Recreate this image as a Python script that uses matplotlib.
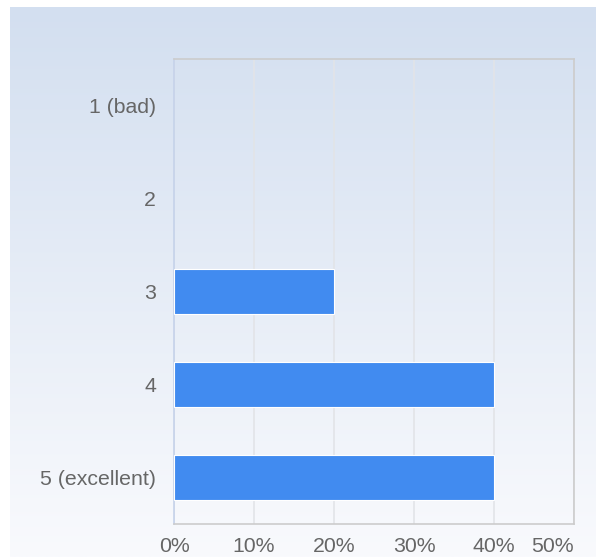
import numpy as np
import matplotlib
matplotlib.use("Agg")
import matplotlib.pyplot as plt
from matplotlib.colors import LinearSegmentedColormap

categories = ["1 (bad)", "2", "3", "4", "5 (excellent)"]
values = [0, 0, 20, 40, 40]
xticks = [0, 10, 20, 30, 40, 50]
xtick_labels = ["0%", "10%", "20%", "30%", "40%", "50%"]

W, H = 596, 557
fig = plt.figure(figsize=(W / 100, H / 100), dpi=100)
fig.patch.set_facecolor("white")

# gradient background
bg = fig.add_axes([10 / W, 0, 1 - 10 / W, 1 - 7 / H])
cmap = LinearSegmentedColormap.from_list("bg", ["#d3dff0", "#f9fafd"])
grad = np.linspace(0, 1, 256).reshape(-1, 1)
bg.imshow(grad, aspect="auto", cmap=cmap, extent=[0, 1, 0, 1], origin="upper")
bg.set_axis_off()

left, right, top, bottom = 174, 574, 59, 524
ax = fig.add_axes([left / W, 1 - bottom / H, (right - left) / W, (bottom - top) / H])
ax.patch.set_alpha(0)

y = np.arange(len(categories))
bars = ax.barh(y, values, height=0.48, color="#418bf0", edgecolor="white", linewidth=0.8, zorder=3)
for b, v in zip(bars, values):
    if v == 0:
        b.set_linewidth(0)
ax.set_ylim(len(categories) - 0.5, -0.5)
ax.set_xlim(0, 50)
ax.set_yticks(y)
ax.set_yticklabels(categories)
ax.set_xticks(xticks)
ax.set_xticklabels(xtick_labels)
lbls = ax.get_xticklabels()
lbls[-1].set_horizontalalignment("right")
lbls[-1].set_x(50)

ax.grid(axis="x", color="#e2e4e8", linewidth=1.2, zorder=0)
ax.tick_params(length=0, labelsize=15.3, labelcolor="#666666")
ax.tick_params(axis="y", pad=13)
ax.tick_params(axis="x", pad=9)
for lab in ax.get_xticklabels() + ax.get_yticklabels():
    lab.set_fontfamily(["Liberation Sans", "DejaVu Sans"])

for s in ["top", "right", "bottom"]:
    ax.spines[s].set_color("#cccccc")
    ax.spines[s].set_linewidth(1.2)
ax.spines["left"].set_color("#c5d2ea")
ax.spines["left"].set_linewidth(1.2)

fig.savefig("out.png", dpi=100)
